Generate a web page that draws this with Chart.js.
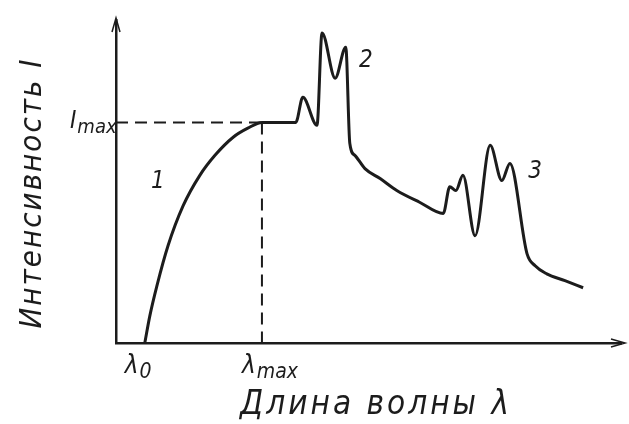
<!DOCTYPE html>
<html>
<head>
<meta charset="utf-8">
<script src="https://cdn.jsdelivr.net/npm/chart.js@4"></script>
<style>
  html, body { margin: 0; padding: 0; background: #fff; }
  #wrap { width: 629px; height: 424px; }
</style>
</head>
<body>
<div id="wrap"><canvas id="spectrum" width="629" height="424"></canvas></div>
<script>
// wavelength (arbitrary units) and intensity
const waveLength = [5.7, 6.7, 8.1, 10.3, 13.3, 16.6, 19.6, 23.2, 26.1, 28.9, 35.6,
  37.0, 39.8, 40.8, 43.4, 45.5, 46.3, 47.3, 49.3, 52.3, 55.6, 60.2, 64.8,
  66.1, 67.3, 68.7, 71.1, 74.1, 76.4, 78.0, 81.4, 83.0, 85.3, 88.9, 92.5];
const intensity = [0, 8.4, 17.7, 30.1, 42.5, 51.9, 58.1, 63.7, 66.5, 68.3, 68.3,
  76.1, 67.4, 96.0, 82.0, 91.6, 61.8, 58.1, 54.0, 50.9, 47.2, 43.5, 40.1,
  48.4, 47.2, 51.9, 33.2, 61.2, 50.3, 55.6, 27.6, 23.9, 21.4, 19.3, 17.1];

const lambda0 = 5.7;
const lambdaMax = 28.9;
const iMax = 68.3;

// tick labels: main letter + subscript
const xTickValues = [lambda0, lambdaMax];
const xTickLabels = [["λ", "0"], ["λ", "max"]];
const yTickValues = [iMax];
const yTickLabels = [["I", "max"]];

// curve numbers and the data point they sit next to
const curveNames = ["1", "2", "3"];
const curveNameAt = [[8.3, 50.0], [49.5, 87.5], [83.0, 53.0]];

const ink = "#1c1c1c";
const font = '"DejaVu Sans Condensed", "DejaVu Sans", sans-serif';

const points = waveLength.map((x, i) => ({ x, y: intensity[i] }));

const labelsPlugin = {
  id: "labels",
  afterDraw(chart) {
    const { ctx, scales: { x, y }, chartArea: area } = chart;
    ctx.save();
    ctx.fillStyle = ink;
    ctx.strokeStyle = ink;

    // arrow heads
    ctx.lineWidth = 1.5;
    ctx.beginPath();
    ctx.moveTo(area.left - 4, area.top + 12);
    ctx.lineTo(area.left, area.top - 2);
    ctx.lineTo(area.left + 4, area.top + 12);
    ctx.stroke();
    ctx.beginPath();
    ctx.moveTo(area.right - 10, area.bottom - 4);
    ctx.lineTo(area.right + 4, area.bottom);
    ctx.lineTo(area.right - 10, area.bottom + 4);
    ctx.stroke();

    function sub(parts, px, py, big, small) {
      ctx.font = "italic " + big + "px " + font;
      ctx.textAlign = "left";
      ctx.textBaseline = "alphabetic";
      ctx.fillText(parts[0], px, py);
      const w = ctx.measureText(parts[0]).width;
      ctx.font = "italic " + small + "px " + font;
      ctx.fillText(parts[1], px + w + 1, py + 5);
    }

    xTickValues.forEach((v, i) => {
      sub(xTickLabels[i], x.getPixelForValue(v) - 20, area.bottom + 30, 26, 21);
    });
    yTickValues.forEach((v, i) => {
      sub(yTickLabels[i], area.left - 46, y.getPixelForValue(v) + 6, 24, 20);
    });

    ctx.font = "italic 24px " + font;
    ctx.textAlign = "center";
    ctx.textBaseline = "middle";
    curveNames.forEach((n, i) => {
      const [cx, cy] = curveNameAt[i];
      ctx.fillText(n, x.getPixelForValue(cx), y.getPixelForValue(cy));
    });

    // axis titles
    ctx.letterSpacing = "3px";
    ctx.font = "italic 33px " + font;
    ctx.fillText("Длина волны λ", 376, 405);
    ctx.translate(33, 193);
    ctx.rotate(-Math.PI / 2);
    ctx.letterSpacing = "2px";
    ctx.font = "italic 31px " + font;
    ctx.fillText("Интенсивность I", 0, 0);
    ctx.restore();
  }
};

new Chart(document.getElementById("spectrum"), {
  type: "line",
  data: {
    datasets: [
      {
        data: points,
        borderColor: ink,
        borderWidth: 3,
        pointRadius: 0,
        cubicInterpolationMode: "monotone"
      },
      {
        data: [{ x: 0, y: iMax }, { x: lambdaMax, y: iMax }],
        borderColor: ink,
        borderWidth: 2,
        borderDash: [12, 7],
        pointRadius: 0
      },
      {
        data: [{ x: lambdaMax, y: iMax }, { x: lambdaMax, y: 0 }],
        borderColor: ink,
        borderWidth: 2,
        borderDash: [12, 7],
        pointRadius: 0
      }
    ]
  },
  options: {
    responsive: false,
    animation: false,
    layout: { padding: { left: 108, right: 8, top: 20, bottom: 73 } },
    plugins: { legend: { display: false }, tooltip: { enabled: false } },
    scales: {
      x: {
        type: "linear",
        min: 0,
        max: 100,
        grid: { display: false },
        border: { color: ink, width: 2.5 },
        ticks: { display: false }
      },
      y: {
        min: 0,
        max: 100,
        grid: { display: false },
        border: { color: ink, width: 2.5 },
        ticks: { display: false }
      }
    }
  },
  plugins: [labelsPlugin]
});
</script>
</body>
</html>
